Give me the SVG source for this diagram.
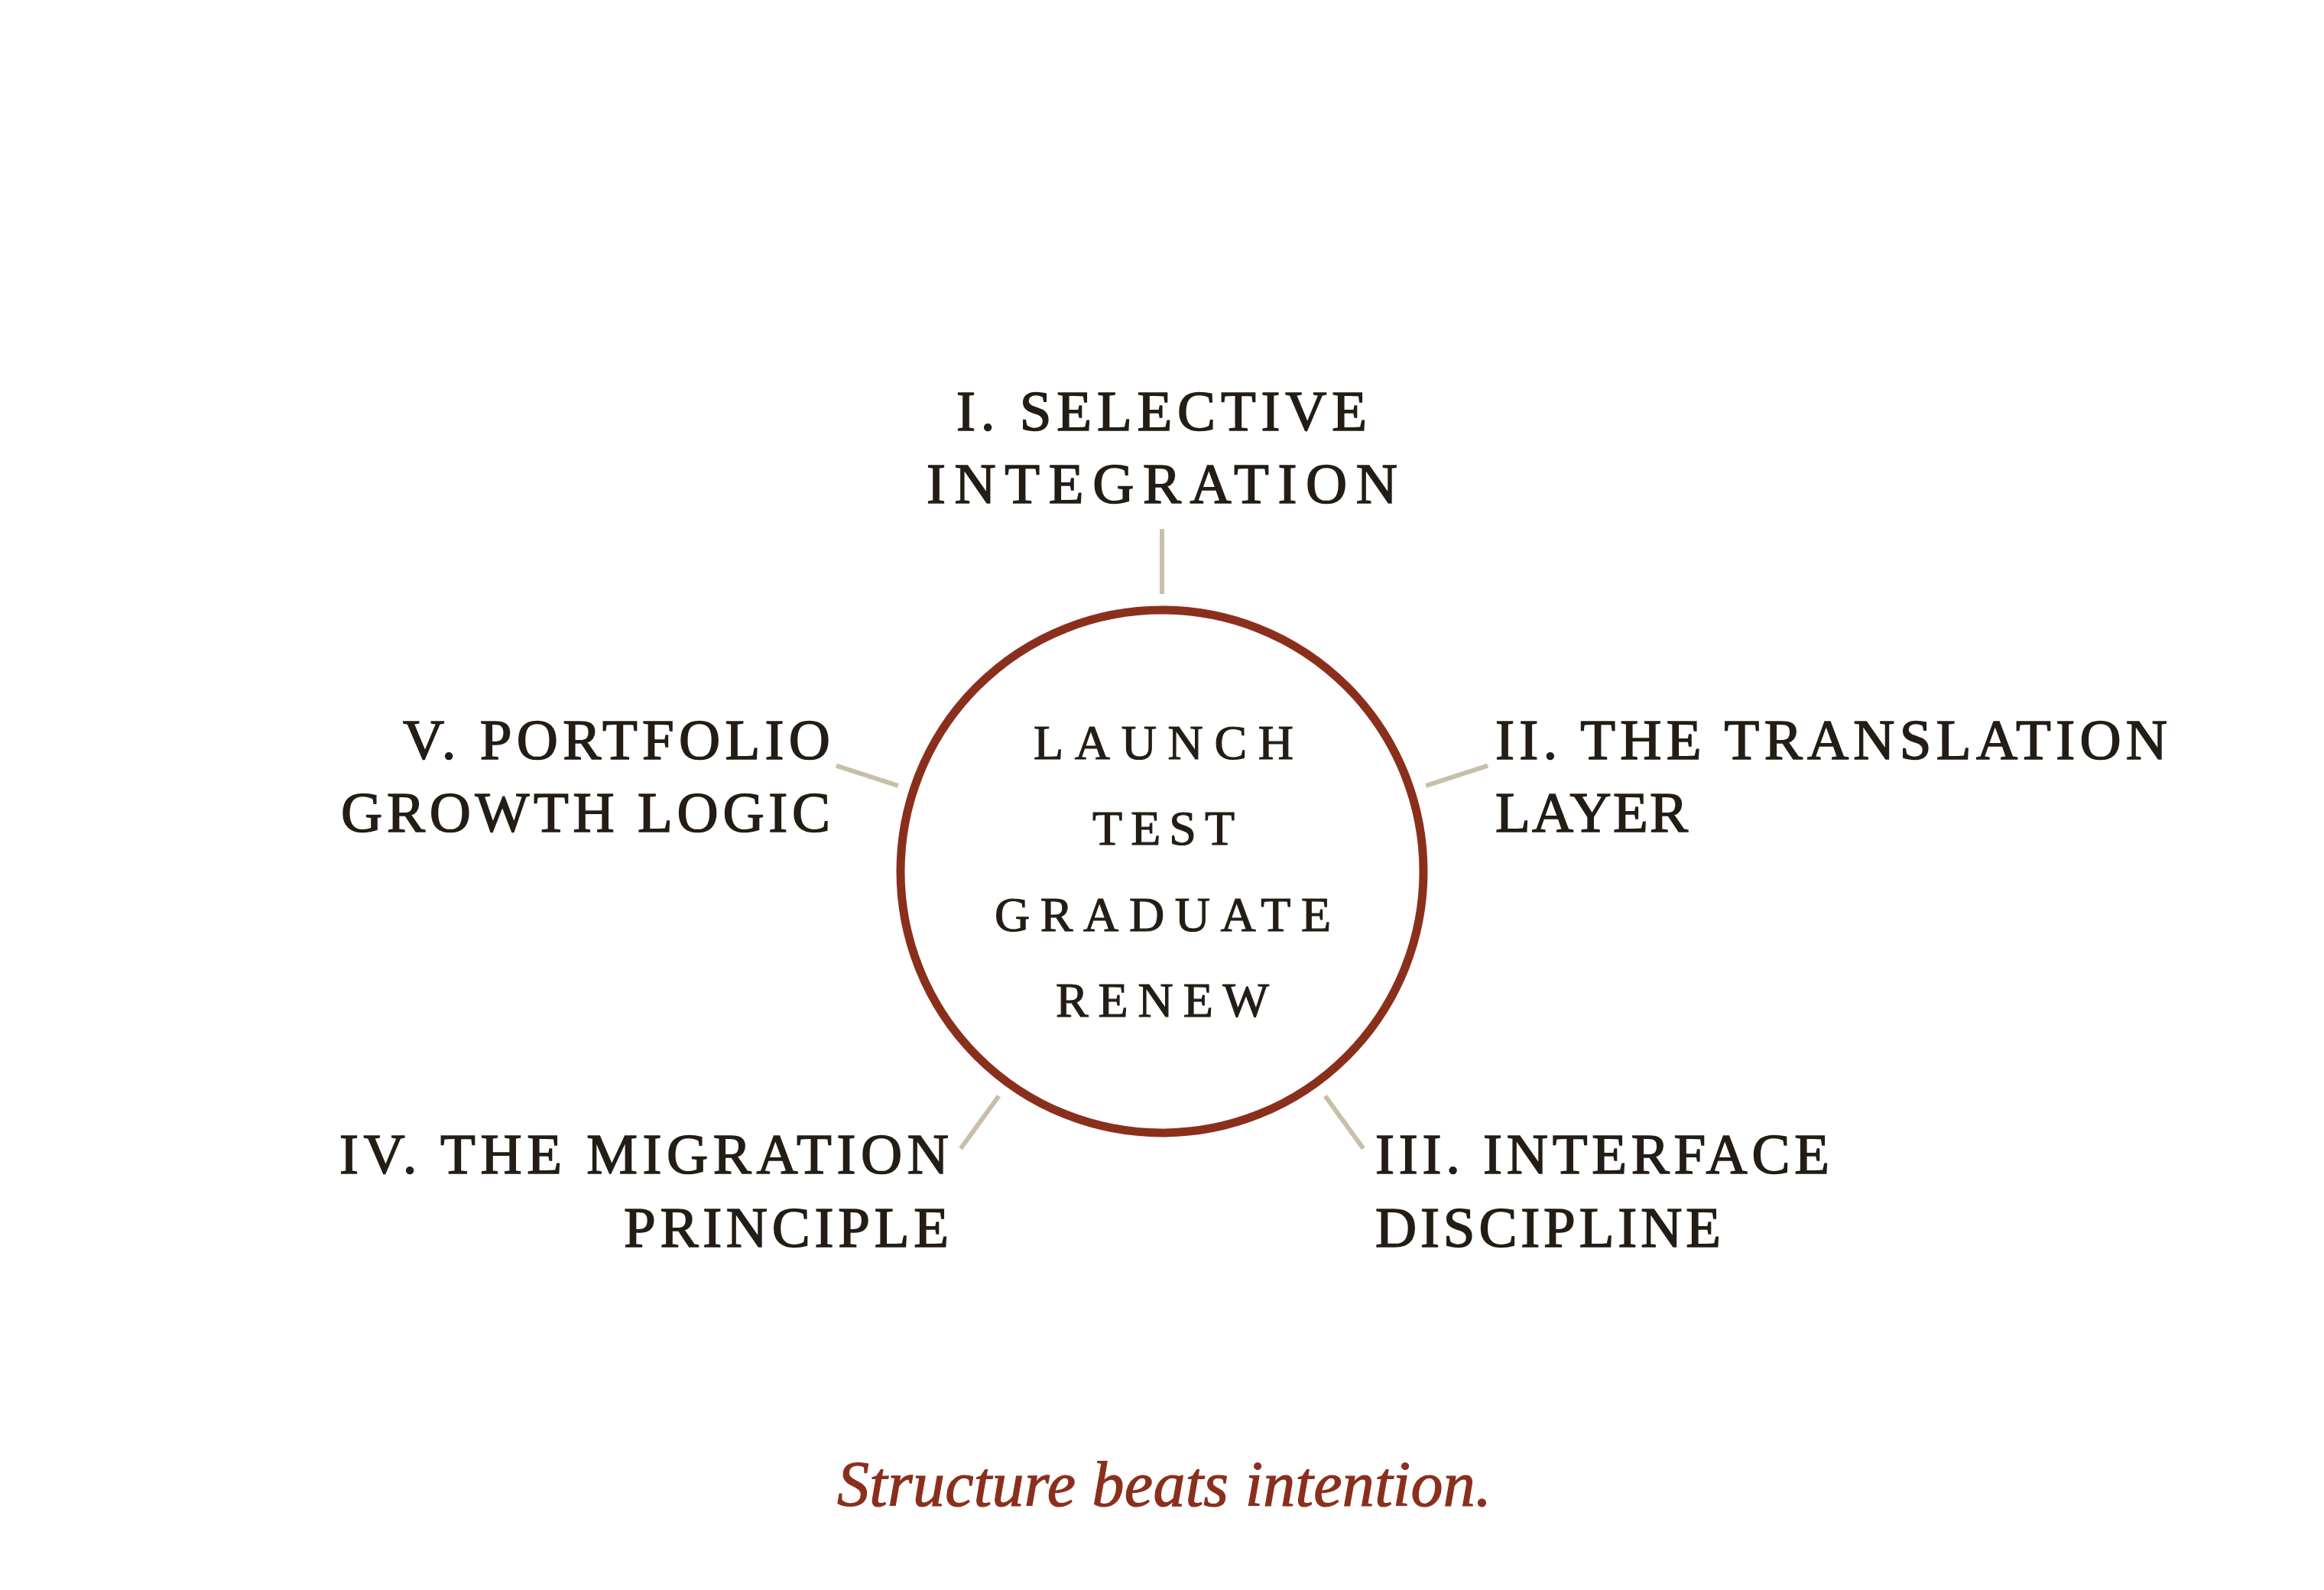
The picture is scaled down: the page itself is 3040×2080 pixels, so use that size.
<svg xmlns="http://www.w3.org/2000/svg" width="3040" height="2080" viewBox="0 0 3040 2080">
  <style>
    .bg { fill: #ffffff; }
    .ring { fill: none; stroke: #8b2f1d; stroke-width: 11; }
    .conn { stroke: #c9bfa8; stroke-width: 6; stroke-linecap: butt; fill: none; }
    .lbl { font-family: "Liberation Serif", "DejaVu Serif", serif; font-size: 75px; fill: #231d15; stroke: #231d15; stroke-width: 1.6px; }
    .core { font-family: "Liberation Serif", "DejaVu Serif", serif; font-size: 64px; fill: #231d15; stroke: #231d15; stroke-width: 1.2px; }
    .motto { font-family: "Liberation Serif", "DejaVu Serif", serif; font-size: 84px; font-style: italic; fill: #8b2f1d; stroke: #8b2f1d; stroke-width: 1.2px; }
  </style>
  <rect class="bg" x="0" y="0" width="3040" height="2080"/>

  <g id="connectors">
    <line class="conn" x1="1520" y1="777" x2="1520" y2="692"/>
    <line class="conn" x1="1865.2" y1="1027.8" x2="1946.1" y2="1001.6"/>
    <line class="conn" x1="1733.4" y1="1433.7" x2="1783.3" y2="1502.4"/>
    <line class="conn" x1="1306.6" y1="1433.7" x2="1256.7" y2="1502.4"/>
    <line class="conn" x1="1174.8" y1="1027.8" x2="1093.9" y2="1001.6"/>
  </g>

  <g id="core">
    <circle class="ring" cx="1520" cy="1140" r="342"/>
    <text class="core" x="1352" y="993" textLength="340" lengthAdjust="spacing">LAUNCH</text>
    <text class="core" x="1429" y="1105" textLength="186" lengthAdjust="spacing">TEST</text>
    <text class="core" x="1301" y="1218" textLength="440" lengthAdjust="spacing">GRADUATE</text>
    <text class="core" x="1381" y="1330" textLength="279" lengthAdjust="spacing">RENEW</text>
  </g>

  <g id="node-1">
    <text class="lbl" x="1251" y="563" textLength="537" lengthAdjust="spacing">I. SELECTIVE</text>
    <text class="lbl" x="1212" y="658" textLength="616" lengthAdjust="spacing">INTEGRATION</text>
  </g>

  <g id="node-2">
    <text class="lbl" x="1956" y="993" textLength="879" lengthAdjust="spacing">II. THE TRANSLATION</text>
    <text class="lbl" x="1956" y="1088" textLength="252" lengthAdjust="spacing">LAYER</text>
  </g>

  <g id="node-3">
    <text class="lbl" x="1799" y="1535" textLength="594" lengthAdjust="spacing">III. INTERFACE</text>
    <text class="lbl" x="1799" y="1631" textLength="452" lengthAdjust="spacing">DISCIPLINE</text>
  </g>

  <g id="node-4">
    <text class="lbl" x="444" y="1535" textLength="797" lengthAdjust="spacing">IV. THE MIGRATION</text>
    <text class="lbl" x="816" y="1631" textLength="425" lengthAdjust="spacing">PRINCIPLE</text>
  </g>

  <g id="node-5">
    <text class="lbl" x="527" y="993" textLength="559" lengthAdjust="spacing">V. PORTFOLIO</text>
    <text class="lbl" x="446" y="1088" textLength="640" lengthAdjust="spacing">GROWTH LOGIC</text>
  </g>

  <g id="caption">
    <text class="motto" x="1095" y="1970" textLength="856" lengthAdjust="spacing">Structure beats intention.</text>
  </g>
</svg>
